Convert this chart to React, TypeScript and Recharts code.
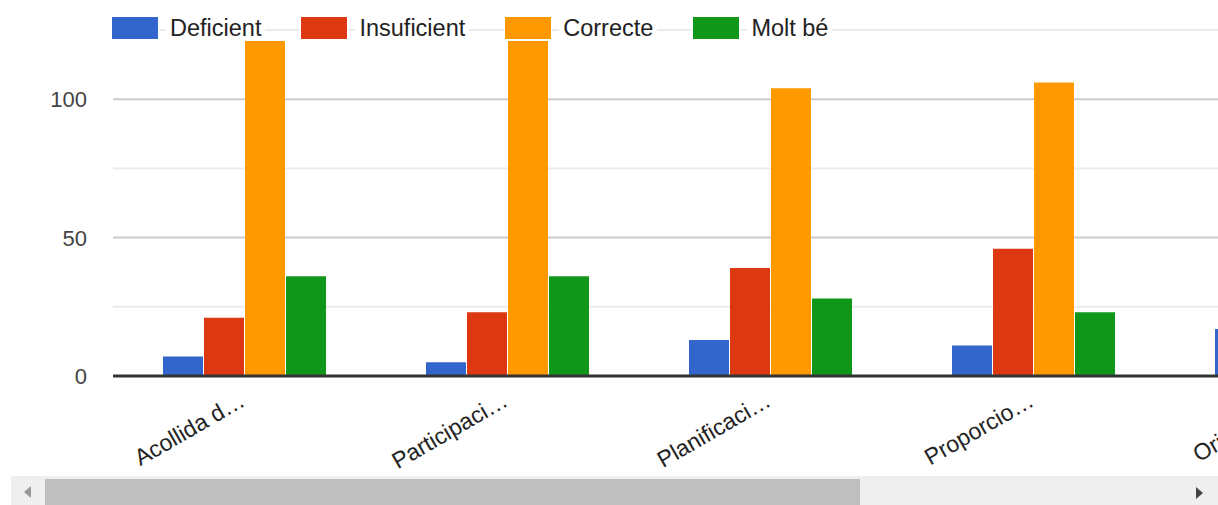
import React from 'react';
import { BarChart, Bar, XAxis, YAxis, ReferenceLine } from 'recharts';

const CATEGORIES = ['Acollida d…', 'Participaci…', 'Planificaci…', 'Proporcio…', 'Orientaci…'];
const DEFICIENT = [7, 5, 13, 11, 17];
const INSUFICIENT = [21, 23, 39, 46, null];
const CORRECTE = [121, 121, 104, 106, null];
const MOLT_BE = [36, 36, 28, 23, null];

const SERIES = [
  { key: 'deficient', name: 'Deficient', color: '#3366cc', values: DEFICIENT },
  { key: 'insuficient', name: 'Insuficient', color: '#dc3912', values: INSUFICIENT },
  { key: 'correcte', name: 'Correcte', color: '#ff9900', values: CORRECTE },
  { key: 'moltBe', name: 'Molt bé', color: '#109618', values: MOLT_BE },
];

const Y_TICKS = [0, 25, 50, 75, 100, 125];
const Y_LABELS = [0, 50, 100];
const MINOR_LINES = [25, 75, 125];
const MAJOR_LINES = [50, 100];

const data = CATEGORIES.map((name, i) => {
  const row: Record<string, any> = { name };
  SERIES.forEach((s) => { row[s.key] = s.values[i]; });
  return row;
});

const FONT = '"Liberation Sans", Arial, sans-serif';

const YTick = (props: any) => {
  const { y, payload } = props;
  if (!Y_LABELS.includes(payload.value)) return null;
  return (
    <text x={87} y={y} dy="0.36em" textAnchor="end" fill="#444" fontSize={22} fontFamily={FONT}>
      {payload.value}
    </text>
  );
};

const XTick = (props: any) => {
  const { x, payload } = props;
  const ty = 405;
  return (
    <text x={x + 2} y={ty} textAnchor="end" fill="#222" fontSize={23} fontFamily={FONT}
      transform={`rotate(-30 ${x + 2} ${ty})`}>
      {payload.value}
    </text>
  );
};

export default function App() {
  return (
    <div style={{ position: 'absolute', left: 0, top: 0, width: 1218, height: 505, overflow: 'hidden', background: '#fff' }}>
      <BarChart width={1428} height={476} data={data} margin={{ top: 30, right: 0, bottom: 0, left: 0 }}
        barCategoryGap={50} barGap={1}>
        <YAxis width={113} domain={[0, 125]} ticks={Y_TICKS} axisLine={false} tickLine={false} tick={<YTick />} />
        <XAxis dataKey="name" height={100} axisLine={{ stroke: '#333', strokeWidth: 3 }} tickLine={false}
          interval={0} tick={<XTick />} />
        {MINOR_LINES.map((v) => (
          <ReferenceLine key={`mi${v}`} y={v} stroke="#ebebeb" strokeWidth={2} zIndex={-50} />
        ))}
        {MAJOR_LINES.map((v) => (
          <ReferenceLine key={`ma${v}`} y={v} stroke="#cccccc" strokeWidth={2} zIndex={-50} />
        ))}
        {SERIES.map((s) => (
          <Bar key={s.key} dataKey={s.key} name={s.name} fill={s.color} barSize={40} isAnimationActive={false} />
        ))}
      </BarChart>

      <div style={{ position: 'absolute', left: 112, top: 16, display: 'flex', alignItems: 'center', fontFamily: FONT, fontSize: 23.5, color: '#222' }}>
        {SERIES.map((s) => (
          <div key={s.key} style={{ display: 'flex', alignItems: 'center', marginRight: 36 }}>
            <div style={{ width: 46, height: 22, background: s.color, boxShadow: '0 0 0 1px #fff' }} />
            <div style={{ marginLeft: 8, padding: '0 4px', background: '#fff', lineHeight: '24px' }}>{s.name}</div>
          </div>
        ))}
      </div>

      <div style={{ position: 'absolute', left: 11, top: 476, width: 1207, height: 29, background: '#efefef' }}>
        <div style={{ position: 'absolute', left: 34, top: 3, width: 815, height: 26, background: '#bfbfbf' }} />
        <div style={{ position: 'absolute', left: 13, top: 10, width: 0, height: 0, borderTop: '6px solid transparent', borderBottom: '6px solid transparent', borderRight: '7px solid #999' }} />
        <div style={{ position: 'absolute', left: 1185, top: 11, width: 0, height: 0, borderTop: '6px solid transparent', borderBottom: '6px solid transparent', borderLeft: '7px solid #444' }} />
      </div>
    </div>
  );
}
